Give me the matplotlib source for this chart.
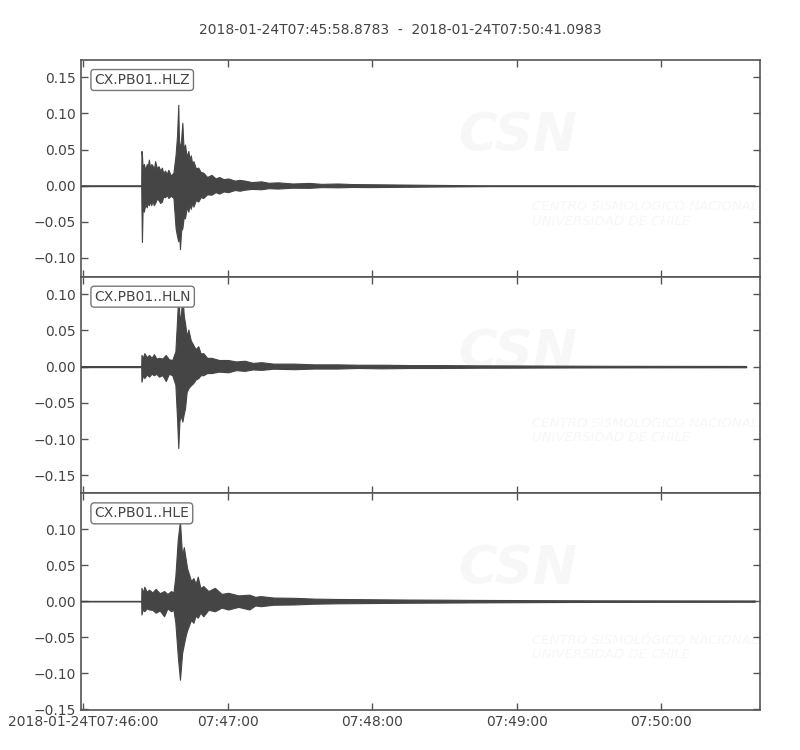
"""
Three-component seismogram (CX.PB01, HL channels) in ObsPy-like style.
Waveforms are drawn as envelopes read off the reference picture.
"""

import datetime as dt
import numpy as np
import matplotlib
matplotlib.use("Agg")
import matplotlib.pyplot as plt
import matplotlib.dates as mdates
from matplotlib.ticker import FuncFormatter, MultipleLocator

matplotlib.rcParams['font.family'] = 'DejaVu Sans'
matplotlib.rcParams['font.size'] = 10

TRACE_COLOR = "#454545"
TEXT_COLOR = "#444444"
SPINE_COLOR = "#555555"

START = dt.datetime(2018, 1, 24, 7, 45, 58, 878300)
END = dt.datetime(2018, 1, 24, 7, 50, 41, 98300)

CHANNELS = ["CX.PB01..HLZ", "CX.PB01..HLN", "CX.PB01..HLE"]
TRACE_END_S = [280.0, 276.4, 280.0]
YLIMS = [(-0.126, 0.174), (-0.175, 0.124), (-0.151, 0.1495)]

# envelope of each trace: seconds since START, upper and lower amplitude
Z_T = [0, 25.1, 25.2, 25.4, 25.7, 26.2, 26.8, 27.4, 27.8, 28.3, 28.8, 29.3, 29.8,
       30.3, 30.9, 31.6, 32.3, 33.0, 33.7, 34.3, 35.0, 35.7, 36.4, 37.4, 38.5,
       39.4, 40.0, 40.5, 40.8, 41.2, 41.7, 42.2, 42.7, 43.3, 44.0, 44.7, 45.2,
       45.7, 46.3, 46.8, 47.8, 48.8, 49.8, 50.9, 52.5, 54.3, 56.0, 57.5, 59.3,
       61.2, 64.0, 66.0, 68.1, 71.0, 75.0, 78.0, 81.9, 88.0, 95.0, 100.0, 106.8,
       113.0, 120.0, 135.0, 150.0, 170.0, 280.0]
Z_UP = [0, 0, 0.048, 0.043, 0.024, 0.030, 0.022, 0.030, 0.026, 0.036, 0.024, 0.030, 0.028,
        0.022, 0.034, 0.024, 0.027, 0.021, 0.025, 0.017, 0.021, 0.016, 0.022, 0.014, 0.018,
        0.043, 0.070, 0.112, 0.060, 0.052, 0.065, 0.087, 0.050, 0.057, 0.040, 0.048, 0.036,
        0.042, 0.030, 0.034, 0.024, 0.025, 0.019, 0.018, 0.012, 0.015, 0.010, 0.012, 0.009,
        0.010, 0.007, 0.008, 0.007, 0.005, 0.006, 0.004, 0.0046, 0.003, 0.0038, 0.0025, 0.003,
        0.0022, 0.002, 0.0015, 0.001, 0.0004, 0]
Z_LO = [0, 0, -0.030, -0.078, -0.030, -0.036, -0.026, -0.030, -0.024, -0.027, -0.022, -0.027, -0.020,
        -0.027, -0.024, -0.018, -0.020, -0.024, -0.022, -0.015, -0.016, -0.013, -0.017, -0.014, -0.017,
        -0.059, -0.070, -0.077, -0.060, -0.088, -0.062, -0.059, -0.045, -0.045, -0.030, -0.036, -0.026,
        -0.032, -0.024, -0.029, -0.020, -0.022, -0.016, -0.017, -0.012, -0.0125, -0.009, -0.011, -0.008,
        -0.009, -0.006, -0.007, -0.0056, -0.0045, -0.005, -0.0035, -0.004, -0.0028, -0.003, -0.002, -0.0023,
        -0.0018, -0.002, -0.0015, -0.001, -0.0004, 0]

N_T = [0, 25.1, 25.2, 25.8, 26.4, 27.4, 28.4, 29.4, 30.4, 31.4, 32.5, 33.9, 35.3,
       36.6, 38.0, 39.3, 40.0, 40.5, 41.0, 41.5, 42.2, 42.8, 43.3, 44.0, 44.7,
       45.7, 46.7, 47.7, 48.8, 49.8, 50.9, 52.5, 54.3, 57.5, 61.2, 64.5, 68.1,
       71.5, 75.0, 80.0, 88.7, 97.0, 106.8, 115.0, 125.0, 137.0, 150.0, 165.0,
       180.0, 200.0, 220.0, 276.4]
N_UP = [0, 0, 0.016, 0.012, 0.0185, 0.013, 0.016, 0.012, 0.017, 0.011, 0.012, 0.011, 0.016,
        0.010, 0.009, 0.021, 0.065, 0.100, 0.070, 0.067, 0.098, 0.070, 0.060, 0.042, 0.051,
        0.036, 0.030, 0.024, 0.028, 0.018, 0.0185, 0.012, 0.012, 0.009, 0.009, 0.007, 0.008,
        0.005, 0.006, 0.004, 0.004, 0.003, 0.003, 0.0025, 0.0025, 0.002, 0.002, 0.0016,
        0.0015, 0.0012, 0.001, 0.0008]
N_LO = [0, 0, -0.021, -0.012, -0.016, -0.011, -0.014, -0.010, -0.012, -0.010, -0.014, -0.012, -0.020,
        -0.010, -0.012, -0.025, -0.072, -0.1125, -0.075, -0.067, -0.076, -0.065, -0.058, -0.035, -0.030,
        -0.026, -0.023, -0.018, -0.016, -0.012, -0.012, -0.009, -0.009, -0.007, -0.008, -0.005, -0.006,
        -0.004, -0.0046, -0.003, -0.0037, -0.0028, -0.0028, -0.002, -0.0025, -0.002, -0.002, -0.0016,
        -0.0015, -0.0012, -0.001, -0.0008]

E_T = [0, 25.1, 25.2, 25.8, 26.4, 27.4, 28.4, 29.7, 31.1, 32.8, 34.6, 36.0, 37.5,
       38.5, 39.3, 40.3, 41.2, 42.1, 42.8, 43.5, 44.2, 44.8, 45.8, 46.8, 47.7,
       48.6, 49.7, 50.9, 53.0, 55.7, 58.5, 61.2, 65.5, 70.0, 72.5, 74.8, 80.0,
       88.7, 97.0, 106.8, 115.0, 125.0, 137.0, 150.0, 165.0, 180.0, 200.0, 220.0, 280.0]
E_UP = [0, 0, 0.0185, 0.012, 0.020, 0.013, 0.016, 0.012, 0.017, 0.011, 0.014, 0.010, 0.014,
        0.012, 0.035, 0.086, 0.111, 0.062, 0.075, 0.060, 0.045, 0.039, 0.028, 0.032, 0.024,
        0.034, 0.018, 0.021, 0.014, 0.0185, 0.010, 0.0116, 0.008, 0.009, 0.006, 0.007, 0.005,
        0.0046, 0.0035, 0.003, 0.0028, 0.0025, 0.0022, 0.002, 0.0017, 0.0015, 0.0012, 0.001, 0.0008]
E_LO = [0, 0, -0.0185, -0.011, -0.014, -0.010, -0.0116, -0.012, -0.016, -0.013, -0.021, -0.010, -0.014,
        -0.012, -0.030, -0.076, -0.109, -0.072, -0.060, -0.049, -0.040, -0.035, -0.026, -0.030, -0.020,
        -0.023, -0.016, -0.021, -0.012, -0.014, -0.009, -0.0116, -0.008, -0.0116, -0.006, -0.007, -0.005,
        -0.0046, -0.0035, -0.003, -0.0028, -0.0025, -0.0022, -0.002, -0.0017, -0.0015, -0.0012, -0.001, -0.0008]

ENVELOPES = [(Z_T, Z_UP, Z_LO), (N_T, N_UP, N_LO), (E_T, E_UP, E_LO)]


def to_num(seconds):
    base = mdates.date2num(START)
    return base + np.asarray(seconds, dtype=float) / 86400.0


def time_label(x, pos):
    d = mdates.num2date(x)
    if pos == 0:
        return d.strftime("%Y-%m-%dT%H:%M:%S")
    return d.strftime("%H:%M:%S")


def add_watermark(ax):
    wm = "#f7f7f7"
    ax.text(0.555, 0.58, "CSN", transform=ax.transAxes, fontsize=38,
            fontstyle="italic", fontweight="bold", color=wm, zorder=0, clip_on=True)
    ax.text(0.665, 0.24, "CENTRO SISMOLÓGICO NACIONAL\nUNIVERSIDAD DE CHILE",
            transform=ax.transAxes, fontsize=9.5, fontstyle="italic",
            color=wm, linespacing=1.15, zorder=0, clip_on=True)


fig, axes = plt.subplots(3, 1, figsize=(8, 7.5), dpi=100, sharex=True)
fig.patch.set_facecolor('white')
fig.subplots_adjust(left=0.101, right=0.95, top=0.92, bottom=0.0533, hspace=0)

xmin, xmax = to_num([0.0, (END - START).total_seconds()])

for i, ax in enumerate(axes):
    t, up, lo = ENVELOPES[i]
    add_watermark(ax)
    x = to_num(t)
    ax.fill_between(x, lo, up, color=TRACE_COLOR, linewidth=0.8,
                    edgecolor=TRACE_COLOR, zorder=2)
    ax.plot(to_num([0, TRACE_END_S[i]]), [0, 0], color=TRACE_COLOR,
            linewidth=1.0, zorder=3)

    ax.set_xlim(xmin, xmax)
    ax.set_ylim(*YLIMS[i])
    ax.yaxis.set_major_locator(MultipleLocator(0.05))
    ax.yaxis.set_major_formatter(FuncFormatter(lambda v, p: f"{v:.2f}".replace("-", "\u2212")))

    ax.text(0.02, 0.94, CHANNELS[i], transform=ax.transAxes, ha="left", va="top",
            fontsize=10, color=TEXT_COLOR, zorder=5,
            bbox=dict(boxstyle="round,pad=0.25", facecolor="white",
                      edgecolor="#777777", linewidth=1.0))

    for sp in ax.spines.values():
        sp.set_color(SPINE_COLOR)
        sp.set_linewidth(1.2)
    ax.tick_params(direction="in", length=5, width=1, color=SPINE_COLOR,
                   labelcolor=TEXT_COLOR, top=True, right=True, labelsize=10)

axes[-1].xaxis.set_major_locator(mdates.MinuteLocator())
axes[-1].xaxis.set_major_formatter(FuncFormatter(time_label))

fig.suptitle("2018-01-24T07:45:58.8783  -  2018-01-24T07:50:41.0983",
             y=0.97, fontsize=10, color=TEXT_COLOR)

plt.savefig("out.png", dpi=100, facecolor="white")
plt.close()
